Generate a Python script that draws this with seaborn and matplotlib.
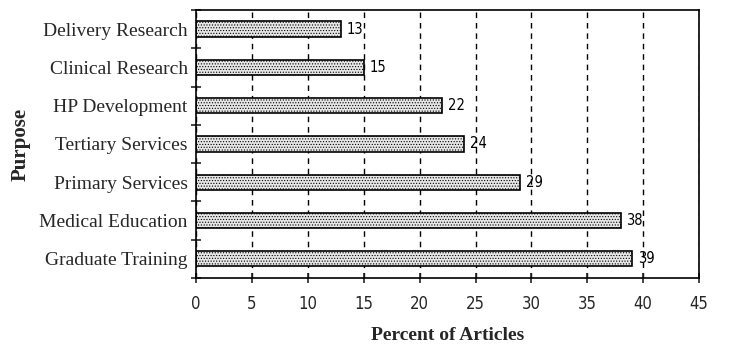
import pandas as pd
import numpy as np
import seaborn as sns
import matplotlib.pyplot as plt
from matplotlib.ticker import MultipleLocator, FixedLocator

# data, top to bottom as in the chart
purpose = ["Delivery Research", "Clinical Research", "HP Development",
           "Tertiary Services", "Primary Services", "Medical Education",
           "Graduate Training"]
percent = [13, 15, 22, 24, 29, 38, 39]

df = pd.DataFrame({"purpose": purpose, "percent": percent})

sns.set_theme(style="white")
plt.rcParams["font.family"] = ["Liberation Serif", "DejaVu Serif"]
plt.rcParams["hatch.color"] = "#a0a0a0"
plt.rcParams["hatch.linewidth"] = 0.5

narrow = ["DejaVu Sans"]

fig = plt.figure(figsize=(7.29, 3.44), dpi=100)
ax = fig.add_axes([0.269, 0.192, 0.69, 0.779])

sns.barplot(data=df, x="percent", y="purpose", orient="h", ax=ax,
            color="#e6e6e6", edgecolor="black", linewidth=1.2, width=0.4,
            saturation=1)
for p in ax.patches:
    p.set_hatch("......")

# value labels
for i, v in enumerate(percent):
    ax.text(v + 0.5, i, str(v), va="center", ha="left", fontsize=10.5,
            family=narrow, stretch="condensed", color="black")

ax.set_xlim(0, 45)
ax.set_ylim(len(purpose) - 0.5, -0.5)
ax.xaxis.set_major_locator(MultipleLocator(5))
ax.set_axisbelow(True)
ax.grid(axis="x", color="black", linestyle=(0, (4, 3.5)), linewidth=1)
ax.grid(axis="y", visible=False)

# ticks at category boundaries
ax.yaxis.set_minor_locator(FixedLocator(np.arange(-0.5, len(purpose), 1)))
ax.tick_params(axis="y", which="major", length=0, labelsize=14, pad=6)
ax.tick_params(axis="y", which="minor", length=7, width=1.2, direction="inout",
               left=True)
ax.tick_params(axis="x", which="major", length=7, width=1.2, direction="inout",
               bottom=True, labelsize=12, pad=9)
for lab in ax.get_xticklabels():
    lab.set_family(narrow)
    lab.set_stretch("condensed")

for s in ax.spines.values():
    s.set_color("black")
    s.set_linewidth(1.2)

ax.set_xlabel("Percent of Articles", fontsize=14, fontweight="bold", labelpad=10)
ax.set_ylabel("Purpose", fontsize=15, fontweight="bold", labelpad=6)

fig.savefig("out.png", dpi=100)
